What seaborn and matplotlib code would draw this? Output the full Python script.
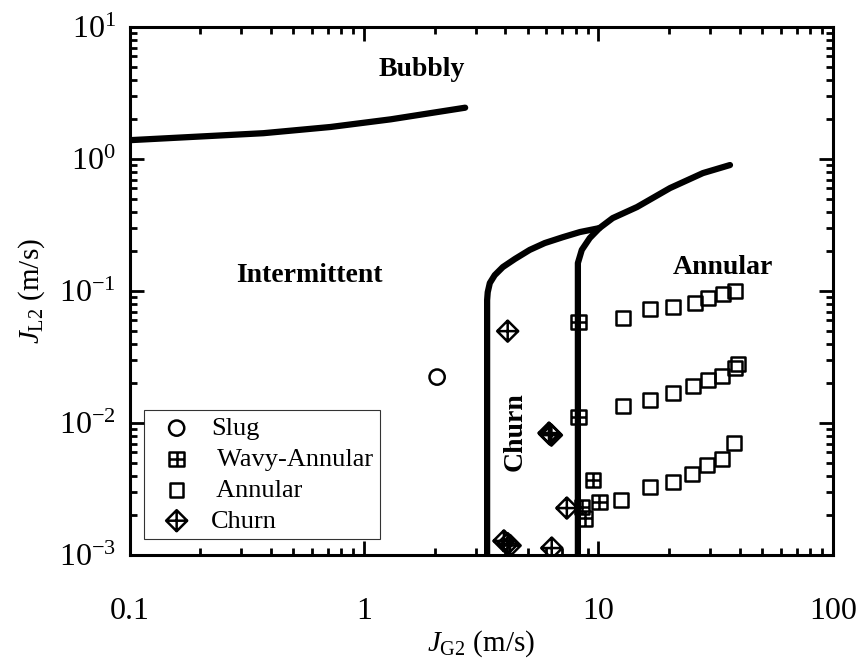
import numpy as np
import pandas as pd
import seaborn as sns
import matplotlib
matplotlib.use("Agg")
from matplotlib import pyplot as plt
from matplotlib import ticker
from matplotlib.path import Path

# flow regime boundary lines
bubbly_jg = [0.1, 0.372, 0.72, 1.3, 2.7]
bubbly_jl = [1.39, 1.57, 1.75, 2.0, 2.45]

churn_left_jg = [3.35, 3.35, 3.37, 3.44, 3.61, 3.91, 4.40, 5.09, 5.90, 7.05, 8.34, 10.1]
churn_left_jl = [0.001, 0.0854, 0.098, 0.115, 0.132, 0.152, 0.175, 0.205, 0.231, 0.256, 0.280, 0.300]

annular_jg = [8.17, 8.17, 8.49, 9.18, 10.1, 11.5, 14.6, 20.2, 27.9, 36.4]
annular_jl = [0.001, 0.163, 0.205, 0.252, 0.300, 0.357, 0.433, 0.603, 0.783, 0.901]

# experimental points
slug_jg = [2.05]
slug_jl = [0.0223]

wavy_jg = [8.24, 8.24, 9.47, 10.1, 8.5, 8.75]
wavy_jl = [0.0582, 0.0111, 0.0037, 0.00252, 0.00231, 0.0019]

ann_jg = [12.7, 16.6, 20.8, 25.8, 29.3, 34.0, 38.2,
          12.7, 16.6, 20.8, 25.3, 29.3, 33.7, 38.2, 39.4,
          12.5, 16.6, 20.8, 25.0, 29.0, 33.7, 37.8]
ann_jl = [0.0624, 0.0731, 0.0757, 0.0811, 0.0885, 0.0949, 0.100,
          0.01345, 0.01494, 0.01687, 0.01906, 0.0212, 0.0227, 0.0261, 0.0280,
          0.00261, 0.00327, 0.00357, 0.00411, 0.00481, 0.00534, 0.00705]

churn_jg = [4.1, 6.2, 6.3, 6.15, 7.33, 3.95, 4.1, 4.2, 6.32]
churn_jl = [0.0497, 0.00826, 0.0081, 0.0084, 0.00227, 0.00128, 0.00122, 0.00118, 0.00113]

# custom marker shapes
square_plus = Path([(-1, -1), (1, -1), (1, 1), (-1, 1), (-1, -1),
                    (0, -1), (0, 1), (-1, 0), (1, 0)],
                   [Path.MOVETO, Path.LINETO, Path.LINETO, Path.LINETO, Path.CLOSEPOLY,
                    Path.MOVETO, Path.LINETO, Path.MOVETO, Path.LINETO])
diamond_cross = Path([(0, -1), (1, 0), (0, 1), (-1, 0), (0, -1),
                      (0, -1), (0, 1), (-1, 0), (1, 0)],
                     [Path.MOVETO, Path.LINETO, Path.LINETO, Path.LINETO, Path.CLOSEPOLY,
                      Path.MOVETO, Path.LINETO, Path.MOVETO, Path.LINETO])

sns.set_style("ticks")
plt.rcParams['font.family'] = ['Liberation Serif', 'DejaVu Serif']
plt.rcParams['mathtext.fontset'] = 'custom'
plt.rcParams['mathtext.rm'] = 'Liberation Serif'
plt.rcParams['mathtext.it'] = 'Liberation Serif:italic'
plt.rcParams['mathtext.bf'] = 'Liberation Serif:bold'
plt.rcParams['mathtext.default'] = 'regular'
plt.rcParams['text.color'] = 'k'
plt.rcParams['axes.labelcolor'] = 'k'
plt.rcParams['xtick.color'] = 'k'
plt.rcParams['ytick.color'] = 'k'

fig = plt.figure(figsize=(8.64, 6.6), dpi=100)
ax = fig.add_axes([0.150, 0.159, 0.814, 0.800])

lw = 4.5
for xs, ys in [(bubbly_jg, bubbly_jl), (churn_left_jg, churn_left_jl), (annular_jg, annular_jl)]:
    sns.lineplot(x=xs, y=ys, sort=False, estimator=None, color='k', lw=lw, ax=ax)

pt_kw = dict(facecolor='none', edgecolor='k', color='k', linewidth=1.8, ax=ax)
sns.scatterplot(x=slug_jg, y=slug_jl, marker='o', s=120, label='Slug', **pt_kw)
sns.scatterplot(x=wavy_jg, y=wavy_jl, marker=square_plus, s=110, label=' Wavy-Annular', **pt_kw)
sns.scatterplot(x=ann_jg, y=ann_jl, marker='s', s=95, label=' Annular', **pt_kw)
sns.scatterplot(x=churn_jg, y=churn_jl, marker=diamond_cross, s=230, label='Churn', **pt_kw)

ax.set_xscale('log')
ax.set_yscale('log')
ax.set_xlim(0.1, 100)
ax.set_ylim(1e-3, 10)

ax.xaxis.set_major_formatter(ticker.FuncFormatter(lambda v, _: f'{v:g}'))
ax.yaxis.set_minor_locator(ticker.LogLocator(base=10, subs=np.arange(2, 10)))
ax.xaxis.set_minor_locator(ticker.LogLocator(base=10, subs=np.arange(2, 10)))
ax.yaxis.set_minor_formatter(ticker.NullFormatter())
ax.xaxis.set_minor_formatter(ticker.NullFormatter())

ax.tick_params(which='both', direction='in', top=True, right=True, width=2, colors='k')
ax.tick_params(which='major', length=10, labelsize=23)
ax.tick_params(which='minor', length=5)
ax.tick_params(axis='x', which='major', pad=30)
ax.tick_params(axis='y', which='major', pad=10)
for sp in ax.spines.values():
    sp.set_linewidth(2.2)
    sp.set_color('k')

ax.set_xlabel(r'$\mathit{J}_{\mathrm{G2}}$ (m/s)', fontsize=21, labelpad=2)
ax.set_ylabel(r'$\mathit{J}_{\mathrm{L2}}$ (m/s)', fontsize=21, labelpad=8)

bold = dict(transform=ax.transAxes, fontsize=20, fontweight='bold', ha='center', va='center')
ax.text(0.415, 0.919, 'Bubbly', **bold)
ax.text(0.256, 0.530, 'Intermittent', **bold)
ax.text(0.844, 0.544, 'Annular', **bold)
ax.text(0.548, 0.233, 'Churn', rotation=90, **bold)

leg = ax.legend(loc='lower left', bbox_to_anchor=(0.02, 0.03), borderaxespad=0,
                fontsize=19, frameon=True, fancybox=False, edgecolor='k',
                labelspacing=0.28, handletextpad=0.3, borderpad=0.25, markerscale=1.0)
leg.get_frame().set_linewidth(0.8)

fig.savefig('out.png', dpi=100)
